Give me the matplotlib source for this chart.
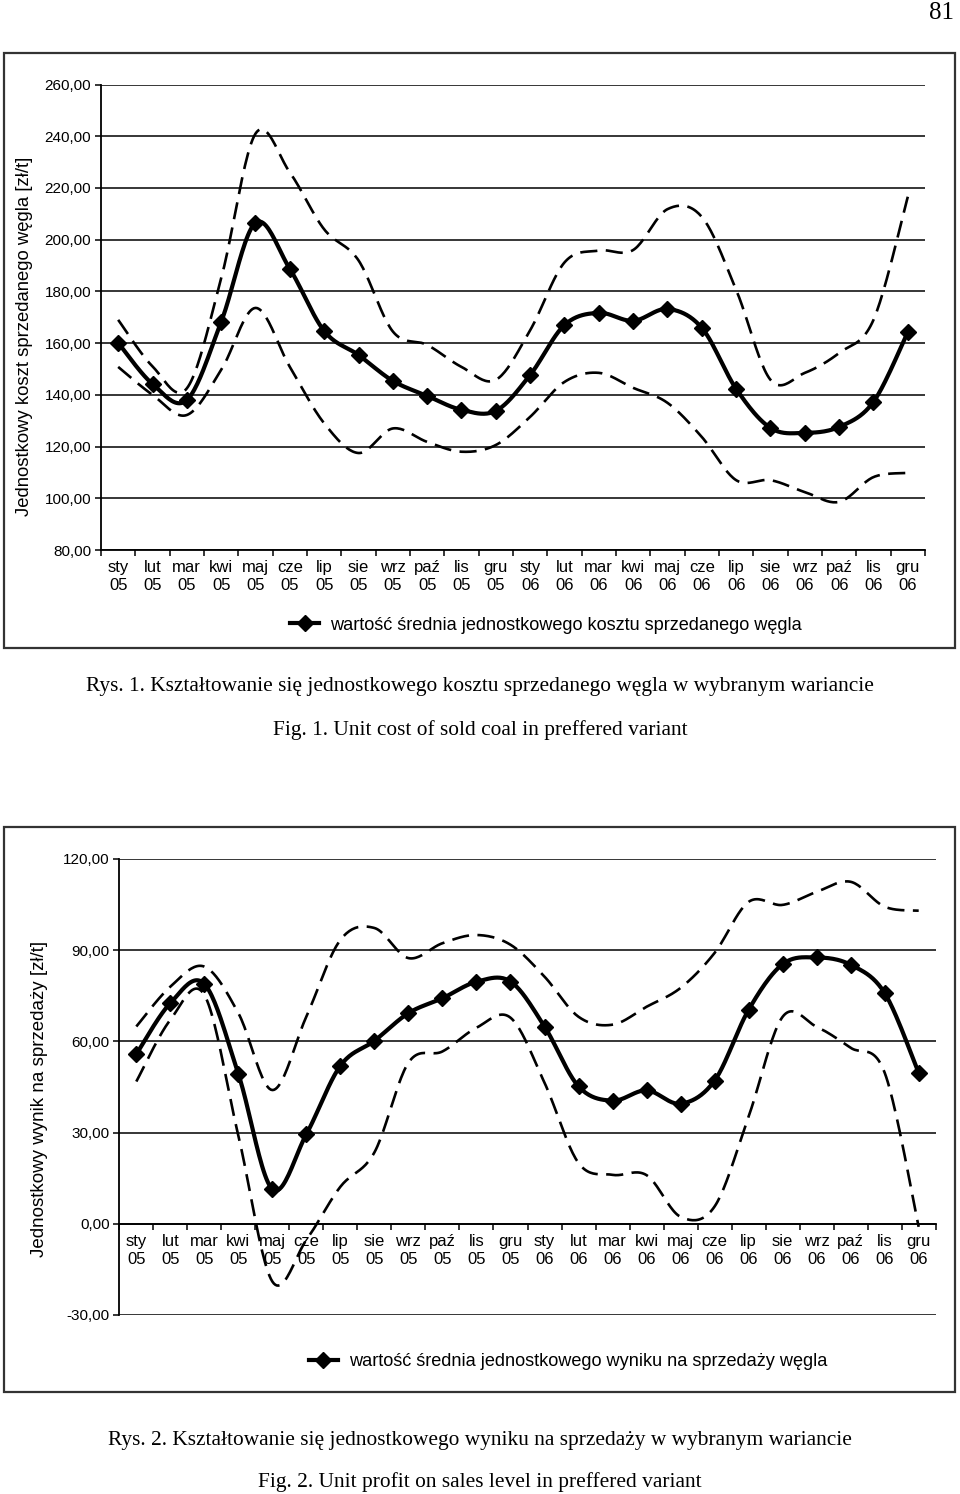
import numpy as np
import matplotlib
matplotlib.use("Agg")
import matplotlib.pyplot as plt
from matplotlib.lines import Line2D
from matplotlib.patches import Rectangle

# months as printed on the x axis
months = ["sty", "lut", "mar", "kwi", "maj", "cze", "lip", "sie", "wrz", "paź", "lis", "gru"]
years = ["05", "06"]
month_lab = months * 2
year_lab = [yr for yr in years for _ in months]

# Fig. 1 - unit cost of sold coal [zł/t]
cost_mean = [160.1, 144.2, 138.0, 168.2, 206.5, 188.7, 164.7, 155.4, 145.4, 139.6, 134.2, 133.8,
             147.7, 167.0, 171.7, 168.6, 173.2, 165.9, 142.3, 127.2, 125.3, 127.6, 137.3, 164.3]
cost_upper = [169.0, 151.0, 142.5, 185.0, 241.0, 226.0, 204.0, 192.0, 164.5, 159.3, 150.8, 145.8,
              165.0, 191.2, 195.8, 196.0, 211.8, 208.8, 180.6, 145.8, 148.5, 156.2, 169.0, 216.6]
cost_lower = [150.8, 140.0, 132.2, 149.6, 173.6, 150.8, 129.0, 117.5, 127.0, 121.8, 118.0, 120.6,
              131.5, 145.0, 148.5, 142.7, 136.9, 123.7, 107.0, 107.0, 102.4, 98.6, 108.2, 109.8]

# Fig. 2 - unit profit on sales [zł/t]
prof_mean = [55.8, 72.6, 78.9, 49.3, 11.4, 29.5, 52.0, 60.2, 69.3, 74.2, 79.6, 79.7,
             64.9, 45.2, 40.5, 43.9, 39.5, 47.1, 70.4, 85.4, 87.6, 85.2, 75.9, 49.6]
prof_upper = [64.9, 78.0, 84.6, 69.3, 44.0, 68.2, 93.4, 97.3, 87.4, 92.3, 95.0, 91.8,
              81.3, 68.1, 65.5, 71.4, 77.6, 89.1, 105.9, 104.9, 109.2, 112.5, 104.3, 103.0]
prof_lower = [46.8, 67.1, 75.3, 29.0, -19.0, -5.3, 12.2, 23.5, 53.0, 56.7, 64.5, 67.8,
              46.4, 20.0, 16.1, 16.0, 2.3, 5.7, 35.3, 68.1, 64.8, 57.9, 49.7, -1.0]

W, H = 960, 1494
SANS = "Liberation Sans"
SERIF = "Liberation Serif"
PX = 0.72  # points per pixel at dpi 100


def smooth(vals, n=24):
    # excel-like smoothed line (bezier with 1/6 tangents)
    p = np.column_stack([np.arange(len(vals)), vals]).astype(float)
    t = np.linspace(0, 1, n)[:, None]
    out = []
    for i in range(len(p) - 1):
        p0 = p[i - 1] if i > 0 else p[i]
        p3 = p[i + 2] if i + 2 < len(p) else p[i + 1]
        c1 = p[i] + (p[i + 1] - p0) / 6
        c2 = p[i + 1] - (p3 - p[i]) / 6
        seg = ((1 - t) ** 3) * p[i] + 3 * ((1 - t) ** 2) * t * c1 + 3 * (1 - t) * t ** 2 * c2 + t ** 3 * p[i + 1]
        out.append(seg if i == 0 else seg[1:])
    out = np.vstack(out)
    return out[:, 0], out[:, 1]


def px_axes(fig, left, top, right, bottom):
    return fig.add_axes([left / W, 1 - bottom / H, (right - left) / W, (bottom - top) / H])


def box(fig, left, top, right, bottom):
    fig.patches.append(Rectangle((left / W, 1 - bottom / H), (right - left) / W, (bottom - top) / H,
                                 transform=fig.transFigure, fill=False, lw=1.6, ec="#333333"))


def draw_chart(ax, mean, upper, lower, ylim, step, axis_y):
    n = len(mean)
    for series in (upper, lower):
        xs, ys = smooth(series)
        ax.plot(xs, ys, color="black", lw=1.9, dashes=(6.5, 3.2), solid_capstyle="butt")
    xs, ys = smooth(mean)
    ax.plot(xs, ys, color="black", lw=3.0)
    ax.plot(np.arange(n), mean, ls="none", marker="D", ms=8, color="black")

    ax.set_xlim(-0.5, n - 0.5)
    ax.set_ylim(*ylim)
    ticks = np.arange(ylim[0], ylim[1] + 1, step)
    ax.set_yticks(ticks)
    ax.set_yticklabels([f"{v:.2f}".replace(".", ",") for v in ticks], fontsize=11, family=SANS)
    ax.yaxis.grid(True, color="black", lw=1.1)
    ax.set_axisbelow(True)
    ax.set_xticks(np.arange(-0.5, n, 1.0))
    ax.set_xticklabels([])
    ax.tick_params(axis="x", length=4, width=1.1, direction="out")
    ax.tick_params(axis="y", length=4, width=1.1, pad=3)
    for s in ("top", "right"):
        ax.spines[s].set_visible(False)
    ax.spines["left"].set_linewidth(1.3)
    ax.spines["bottom"].set_linewidth(1.3)
    ax.spines["bottom"].set_position(("data", axis_y))
    # two-line category labels, each line on its own baseline
    for i in range(n):
        ax.annotate(month_lab[i], (i, axis_y), xytext=(0, -22 * PX), textcoords="offset points",
                    ha="center", va="baseline", fontsize=12, family=SANS, annotation_clip=False)
        ax.annotate(year_lab[i], (i, axis_y), xytext=(0, -40 * PX), textcoords="offset points",
                    ha="center", va="baseline", fontsize=12, family=SANS, annotation_clip=False)


fig = plt.figure(figsize=(W / 100, H / 100), dpi=100)
fig.text(941 / W, 1 - 13 / H, "81", ha="center", va="center", fontsize=18, family=SERIF)

# --- figure 1
box(fig, 4, 53, 955, 648)
ax1 = px_axes(fig, 101, 84.5, 925, 550)
draw_chart(ax1, cost_mean, cost_upper, cost_lower, (80, 260), 20, 80)
fig.text(25 / W, 1 - 336 / H, "Jednostkowy koszt sprzedanego węgla [zł/t]", rotation=90,
         ha="center", va="center", fontsize=13.3, family=SANS)
h1 = Line2D([], [], color="black", lw=3.0, marker="D", ms=8)
fig.legend(handles=[h1], labels=["wartość średnia jednostkowego kosztu sprzedanego węgla"],
           loc="center", bbox_to_anchor=(546 / W, 1 - 625 / H), frameon=False,
           handlelength=1.6, handletextpad=0.6, prop={"family": SANS, "size": 13.1})
fig.text(480 / W, 1 - 687 / H,
         "Rys. 1. Kształtowanie się jednostkowego kosztu sprzedanego węgla w wybranym wariancie",
         ha="center", va="center", fontsize=15.4, family=SERIF)
fig.text(480 / W, 1 - 730 / H, "Fig. 1. Unit cost of sold coal in preffered variant",
         ha="center", va="center", fontsize=15.4, family=SERIF)

# --- figure 2
box(fig, 4, 827, 955, 1392)
ax2 = px_axes(fig, 119.3, 859, 935.7, 1315)
draw_chart(ax2, prof_mean, prof_upper, prof_lower, (-30, 120), 30, 0)
fig.text(40 / W, 1 - 1099 / H, "Jednostkowy wynik na sprzedaży [zł/t]", rotation=90,
         ha="center", va="center", fontsize=13.5, family=SANS)
h2 = Line2D([], [], color="black", lw=3.0, marker="D", ms=8)
fig.legend(handles=[h2], labels=["wartość średnia jednostkowego wyniku na sprzedaży węgla"],
           loc="center", bbox_to_anchor=(568 / W, 1 - 1362 / H), frameon=False,
           handlelength=1.6, handletextpad=0.6, prop={"family": SANS, "size": 13.1})
fig.text(480 / W, 1 - 1440 / H,
         "Rys. 2. Kształtowanie się jednostkowego wyniku na sprzedaży w wybranym wariancie",
         ha="center", va="center", fontsize=15.4, family=SERIF)
fig.text(480 / W, 1 - 1482 / H, "Fig. 2. Unit profit on sales level in preffered variant",
         ha="center", va="center", fontsize=15.4, family=SERIF)

fig.savefig("out.png", dpi=100)
